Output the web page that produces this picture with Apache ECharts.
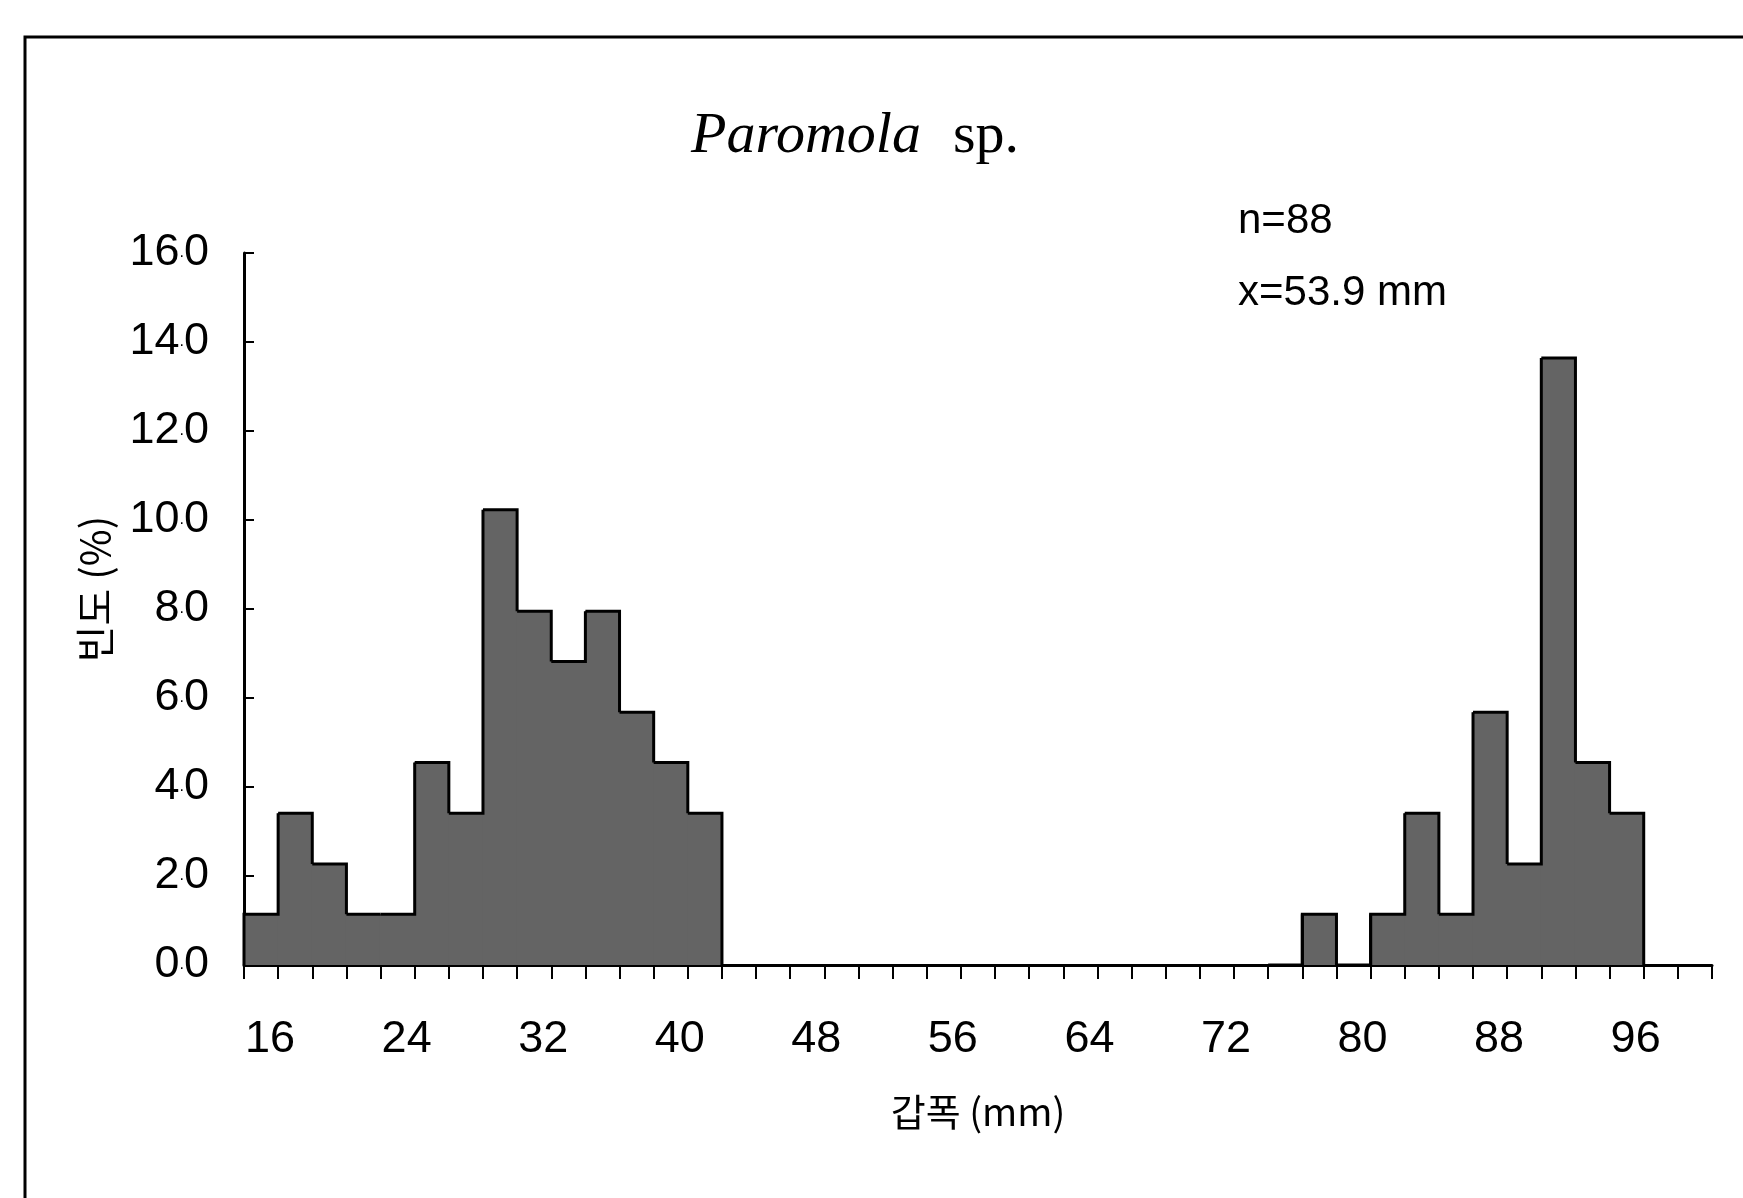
<!DOCTYPE html>
<html>
<head>
<meta charset="utf-8">
<style>
  html, body { margin: 0; padding: 0; background: #fff; }
  #chart { width: 1743px; height: 1198px; }
</style>
<script src="https://cdn.jsdelivr.net/npm/echarts@6/dist/echarts.min.js"></script>
</head>
<body>
<div id="chart"></div>
<script>
// Carapace-width classes (mm, lower bound of each 2 mm class)
const widthClasses = [
  '16', '18', '20', '22', '24', '26', '28', '30', '32', '34', '36', '38', '40', '42',
  '44', '46', '48', '50', '52', '54', '56', '58', '60', '62', '64', '66', '68', '70',
  '72', '74', '76', '78', '80', '82', '84', '86', '88', '90', '92', '94', '96', '98', '100'
];
// Frequency (%) per class, n = 88
const frequency = [
  1.14, 3.41, 2.27, 1.14, 1.14, 4.55, 3.41, 10.23, 7.95, 6.82, 7.95, 5.68, 4.55, 3.41,
  0, 0, 0, 0, 0, 0, 0, 0, 0, 0, 0, 0, 0, 0,
  0, 0, 0, 1.14, 0, 1.14, 3.41, 1.14, 5.68, 2.27, 13.64, 4.55, 3.41, 0, 0
];
const yTicks = [0, 2, 4, 6, 8, 10, 12, 14, 16];
const titleParts = ['Paromola', 'sp.'];
const statLines = ['n=88', 'x=53.9 mm'];
const xName = '갑폭 (mm)';
const yName = '빈도 (%)';

const SANS = '"Liberation Sans", Arial, sans-serif';
const KR = '"Noto Sans CJK KR", "Noto Sans", sans-serif';
const SERIF = '"Liberation Serif", "Times New Roman", serif';
const FILL = '#646464';

const chart = echarts.init(document.getElementById('chart'));

// One histogram class: filled column plus the outline of the silhouette
// (top edge and the step down/up to the next class)
function renderClass(params, api) {
  const i = params.dataIndex;
  const v = api.value(1);
  const vNext = i + 1 < frequency.length ? frequency[i + 1] : 0;
  const vPrev = i > 0 ? frequency[i - 1] : 0;
  if (v === 0 && vNext === 0) return null;
  const c = api.coord([i, v]);
  const base = api.coord([i, 0])[1];
  const band = api.size([1, 0])[0];
  const left = c[0] - band / 2;
  const right = c[0] + band / 2;
  const yTop = c[1];
  const yNext = api.coord([i, vNext])[1];
  const children = [];
  if (v > 0) {
    children.push({
      type: 'rect',
      shape: { x: left - 0.6, y: yTop, width: band + 1.2, height: base - yTop },
      style: { fill: FILL, stroke: null }
    });
  }
  const pts = [];
  if (i === 0 || (vPrev === 0 && v > 0)) pts.push([left, base]);
  pts.push([left, yTop], [right, yTop], [right, yNext]);
  children.push({
    type: 'polyline',
    shape: { points: pts },
    style: { stroke: '#000', lineWidth: 3, fill: null },
    z2: 10
  });
  return { type: 'group', children: children };
}

chart.setOption({
  animation: false,
  backgroundColor: '#fff',
  title: {
    text: '{i|' + titleParts[0] + '}{r|' + titleParts[1] + '}',
    left: 850,
    top: 103,
    textAlign: 'center',
    textStyle: {
      fontWeight: 'normal',
      rich: {
        i: { fontFamily: SERIF, fontStyle: 'italic', fontWeight: 'normal', fontSize: 58, color: '#000' },
        r: { fontFamily: SERIF, fontWeight: 'normal', fontSize: 58, color: '#000', padding: [0, 0, 0, 32] }
      }
    }
  },
  grid: { left: 244, right: 31, top: 253, bottom: 233, containLabel: false },
  xAxis: {
    type: 'category',
    data: widthClasses,
    boundaryGap: true,
    name: xName,
    nameLocation: 'middle',
    nameGap: 128,
    nameTextStyle: { fontFamily: KR, fontSize: 38, color: '#000' },
    axisLine: { lineStyle: { color: '#000', width: 3 } },
    axisTick: { show: true, interval: 0, inside: false, length: 14, lineStyle: { color: '#000', width: 2 } },
    axisLabel: {
      interval: 3,
      margin: 52,
      formatter: v => '{t|' + v + '}',
      rich: { t: { fontFamily: SANS, fontSize: 45, color: '#000', padding: [0, 0, 0, 18] } }
    },
    splitLine: { show: false }
  },
  yAxis: {
    type: 'value',
    min: yTicks[0],
    max: yTicks[yTicks.length - 1],
    interval: yTicks[1] - yTicks[0],
    axisLine: { show: true, lineStyle: { color: '#000', width: 3 } },
    axisTick: { show: true, inside: true, length: 10, lineStyle: { color: '#000', width: 2 } },
    axisLabel: {
      margin: 35,
      formatter: v => {
        const s = v.toFixed(1).split('.');
        return '{n|' + s[0] + '}{d|.}{n|' + s[1] + '}';
      },
      rich: {
        n: { fontFamily: SANS, fontSize: 45, color: '#000' },
        d: { fontFamily: SANS, fontSize: 16, color: '#000' }
      }
    },
    splitLine: { show: false }
  },
  graphic: [
    {
      type: 'rect',
      shape: { x: 25, y: 37, width: 1800, height: 1300 },
      style: { fill: null, stroke: '#000', lineWidth: 3 },
      silent: true
    },
    {
      // vertical axis title
      type: 'text',
      x: 95,
      y: 589,
      rotation: Math.PI / 2,
      style: {
        text: yName,
        font: '40px ' + KR,
        fill: '#000',
        align: 'center',
        verticalAlign: 'middle'
      }
    },
    {
      type: 'text',
      left: 1238,
      top: 200,
      style: { text: statLines[0], font: '42px ' + SANS, fill: '#000' }
    },
    {
      type: 'text',
      left: 1238,
      top: 272,
      style: { text: statLines[1], font: '42px ' + SANS, fill: '#000' }
    }
  ],
  series: [
    {
      type: 'custom',
      name: '빈도',
      data: frequency.map((v, i) => [i, v]),
      encode: { x: 0, y: 1 },
      renderItem: renderClass,
      z: 3
    }
  ]
});
</script>
</body>
</html>
